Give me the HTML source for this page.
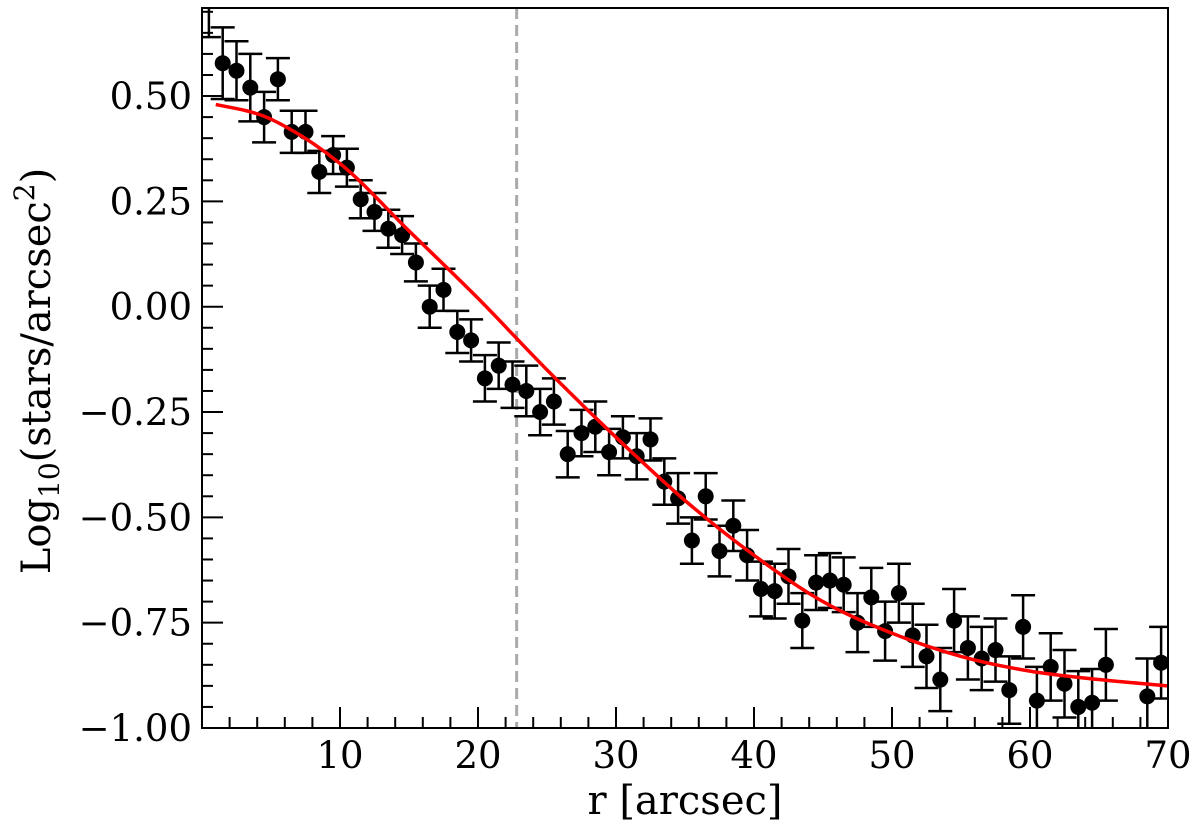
<!DOCTYPE html>
<html><head><meta charset="utf-8"><style>
html,body{margin:0;padding:0;background:#fff;}
svg{display:block;font-family:"DejaVu Serif","Liberation Serif",serif;}
</style></head><body>
<svg id="chart" width="1200" height="834" viewBox="0 0 1200 834">
<defs><clipPath id="clip"><rect x="202" y="8" width="966" height="720"/></clipPath></defs>
<g id="plot" clip-path="url(#clip)"></g>
<g id="axes"></g>
<text x="685" y="814" text-anchor="middle" font-size="40">r [arcsec]</text>
<text transform="translate(50,371) rotate(-90)" text-anchor="middle" font-size="40">Log<tspan font-size="28" dy="9">10</tspan><tspan dy="-9">(stars/arcsec</tspan><tspan font-size="28" dy="-16">2</tspan><tspan dy="16">)</tspan></text>
</svg>
<script>
const radii = [0.5,1.5,2.5,3.5,4.5,5.5,6.5,7.5,8.5,9.5,10.5,11.5,12.5,13.5,14.5,15.5,16.5,17.5,18.5,19.5,20.5,21.5,22.5,23.5,24.5,25.5,26.5,27.5,28.5,29.5,30.5,31.5,32.5,33.5,34.5,35.5,36.5,37.5,38.5,39.5,40.5,41.5,42.5,43.5,44.5,45.5,46.5,47.5,48.5,49.5,50.5,51.5,52.5,53.5,54.5,55.5,56.5,57.5,58.5,59.5,60.5,61.5,62.5,63.5,64.5,65.5,68.5,69.5];
const logDensity = [0.77,0.578,0.56,0.52,0.45,0.54,0.415,0.415,0.32,0.36,0.33,0.255,0.225,0.185,0.17,0.105,0.0,0.04,-0.06,-0.08,-0.17,-0.14,-0.185,-0.2,-0.25,-0.225,-0.35,-0.3,-0.285,-0.345,-0.31,-0.355,-0.315,-0.415,-0.455,-0.555,-0.45,-0.58,-0.52,-0.59,-0.67,-0.675,-0.64,-0.745,-0.655,-0.65,-0.66,-0.75,-0.69,-0.77,-0.68,-0.78,-0.83,-0.885,-0.745,-0.81,-0.835,-0.815,-0.91,-0.76,-0.935,-0.855,-0.895,-0.95,-0.94,-0.85,-0.925,-0.845];
const errors = [0.13,0.085,0.07,0.08,0.06,0.05,0.05,0.05,0.05,0.045,0.045,0.045,0.045,0.045,0.045,0.045,0.05,0.05,0.05,0.05,0.055,0.055,0.055,0.06,0.055,0.055,0.055,0.055,0.06,0.055,0.05,0.055,0.05,0.055,0.06,0.055,0.055,0.06,0.06,0.06,0.065,0.065,0.065,0.065,0.065,0.065,0.065,0.07,0.07,0.07,0.07,0.075,0.075,0.075,0.075,0.075,0.075,0.075,0.08,0.075,0.08,0.08,0.08,0.085,0.08,0.085,0.09,0.085];
const fitR = [0,1,5,10,15,20,25,30,35,40,45,50,55,60,65,70];
const fitY = [0.485,0.48,0.445,0.34,0.18,0.02,-0.15,-0.31,-0.46,-0.59,-0.70,-0.775,-0.83,-0.865,-0.885,-0.90];
const xTicks = [10,20,30,40,50,60,70];
const yTicks = [0.5,0.25,0,-0.25,-0.5,-0.75,-1.0];
const yTickLabels = ["0.50","0.25","0.00","\u22120.25","\u22120.50","\u22120.75","\u22121.00"];
const rCore = 22.8;

const X0=202,X1=1168,Y0=728,Y1=8;
const xmin=0,xmax=70,ymin=-1.0,ymax=0.709;
const sx=v=>X0+(v-xmin)/(xmax-xmin)*(X1-X0);
const sy=v=>Y0-(v-ymin)/(ymax-ymin)*(Y0-Y1);
const NS="http://www.w3.org/2000/svg";
function mk(tag,attrs,parent){const e=document.createElementNS(NS,tag);for(const k in attrs)e.setAttribute(k,attrs[k]);parent.appendChild(e);return e;}
const plot=document.getElementById('plot'),axes=document.getElementById('axes');

let dl=mk('line',{x1:sx(rCore),x2:sx(rCore),y1:Y1,y2:Y0,stroke:'#aaaaaa','stroke-width':3,'stroke-dasharray':'11,6'},plot);



radii.forEach((r,i)=>{
  const g=mk('g',{},plot);
  
  
  const x=sx(r),yt=sy(logDensity[i]+errors[i]),yb=sy(logDensity[i]-errors[i]);
  mk('line',{x1:x,x2:x,y1:yt,y2:yb,stroke:'#000','stroke-width':2.5},g);
  mk('line',{x1:x-12,x2:x+12,y1:yt,y2:yt,stroke:'#000','stroke-width':2.5},g);
  mk('line',{x1:x-12,x2:x+12,y1:yb,y2:yb,stroke:'#000','stroke-width':2.5},g);
  mk('circle',{cx:x,cy:sy(logDensity[i]),r:8,fill:'#000'},g);
});

const pts=fitR.map((r,i)=>[sx(Math.max(r,1)),sy(fitY[i])]).slice(1);
let d='M'+pts[0][0]+','+pts[0][1];
for(let i=0;i<pts.length-1;i++){
  const p0=pts[Math.max(i-1,0)],p1=pts[i],p2=pts[i+1],p3=pts[Math.min(i+2,pts.length-1)];
  const c1=[p1[0]+(p2[0]-p0[0])/6,p1[1]+(p2[1]-p0[1])/6],c2=[p2[0]-(p3[0]-p1[0])/6,p2[1]-(p3[1]-p1[1])/6];
  d+=` C${c1[0]},${c1[1]} ${c2[0]},${c2[1]} ${p2[0]},${p2[1]}`;
}
let fc=mk('path',{d:d,fill:'none',stroke:'#ff0000','stroke-width':3.5},plot);



let fr=mk('rect',{x:X0,y:Y1,width:X1-X0,height:Y0-Y1,fill:'none',stroke:'#000','stroke-width':2},axes);



for(let v=2;v<70;v+=2){
  const major=v%10===0;
  mk('line',{x1:sx(v),x2:sx(v),y1:Y0,y2:Y0-(major?21:11),stroke:'#000','stroke-width':2},axes);
}
xTicks.forEach(v=>{
  const t=mk('text',{x:sx(v),y:Y0+40,'text-anchor':'middle','font-size':37},axes);
  t.textContent=String(v);
  
  
});
for(let k=0;k<=34;k++){
  const v=-1+k*0.05;
  if(v>ymax)break;
  const major=k%5===0;
  mk('line',{x1:X0,x2:X0+(major?21:11),y1:sy(v),y2:sy(v),stroke:'#000','stroke-width':2},axes);
}
yTicks.forEach((v,i)=>{
  const t=mk('text',{x:X0-10,y:sy(v)+13,'text-anchor':'end','font-size':37},axes);
  t.textContent=yTickLabels[i];
  
  
});
</script>
</body></html>
